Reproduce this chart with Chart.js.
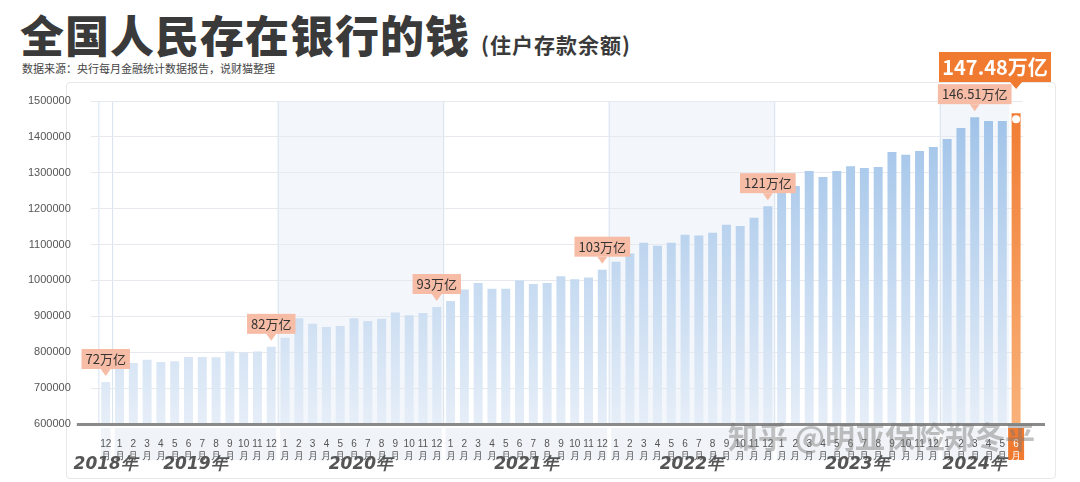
<!DOCTYPE html>
<html><head><meta charset="utf-8">
<script src="https://cdn.jsdelivr.net/npm/chart.js@4.4.1/dist/chart.umd.min.js"></script>
<style>
html,body{margin:0;padding:0;background:#fff;width:1080px;height:482px;overflow:hidden;font-family:"Noto Sans CJK SC",sans-serif}
#wrap{position:absolute;left:0;top:0;width:1080px;height:482px}
#t{position:absolute;left:20px;top:2px;font-size:44px;font-weight:900;color:#3a3a3a;letter-spacing:1px;white-space:nowrap}
#t span{font-size:21px;font-weight:700}
#s{position:absolute;left:22px;top:60px;font-size:11px;color:#444}
#box{position:absolute;left:66px;top:82px;width:988px;height:395px;border:1px solid #e8e8e8;border-radius:4px}
</style></head><body>
<div id="box"></div>
<div id="t">全国人民存在银行的钱 <span>(住户存款余额)</span></div>
<div id="s">数据来源：央行每月金融统计数据报告，说财猫整理</div>
<div id="wrap"><canvas id="c" width="1080" height="482"></canvas></div>
<script>
const months = ['12','1','2','3','4','5','6','7','8','9','10','11','12','1','2','3','4','5','6','7','8','9','10','11','12','1','2','3','4','5','6','7','8','9','10','11','12','1','2','3','4','5','6','7','8','9','10','11','12','1','2','3','4','5','6','7','8','9','10','11','12','1','2','3','4','5','6'];
const years = ['2018年','2019年','2020年','2021年','2022年','2023年','2024年'];
const yearStart = [0,1,13,25,37,49,61];
const deposits = [717000,
 756000,770000,779000,773000,775000,787000,787000,786000,802000,799000,802000,815000,
 840000,895000,879000,870000,873000,895000,887000,893000,911000,903000,909000,926000,
 943000,975000,993000,977000,977000,1000000,990000,993000,1012000,1003000,1008000,1030000,
 1052000,1075000,1105000,1097000,1105000,1127000,1125000,1133000,1155000,1152000,1175000,1207000,
 1252000,1263000,1305000,1288000,1305000,1318000,1313000,1316000,1358000,1350000,1361000,1372000,
 1394000,1425000,1455000,1444000,1444000,1466000];
const callouts = [[0,'72万亿'],[12,'82万亿'],[24,'93万亿'],[36,'103万亿'],[48,'121万亿'],[63,'146.51万亿']];
const finalLabel = '147.48万亿';
const yTicks = [600000,700000,800000,900000,1000000,1100000,1200000,1300000,1400000,1500000];
const last = deposits.length-1;

function yearSpan(x,i){
  const half=(x.getPixelForValue(1)-x.getPixelForValue(0))/2;
  const s=x.getPixelForValue(yearStart[i])-half;
  const e=(i+1<years.length?x.getPixelForValue(yearStart[i+1]):x.getPixelForValue(last))-half;
  return [s,e];
}
const deco = {
 id:'deco',
 beforeDraw(ch){
  const {ctx,chartArea:a,scales:{x}}=ch;
  ctx.save();
  for(let i=0;i<years.length;i++){
    const [s,e]=yearSpan(x,i);
    if(i%2===0 && i>0){ctx.fillStyle='rgba(235,240,246,0.6)';ctx.fillRect(s,a.top,e-s,a.bottom-a.top);}
    ctx.strokeStyle='#d6e2ef';ctx.lineWidth=1;
    ctx.beginPath();ctx.moveTo(s,a.top);ctx.lineTo(s,a.bottom);ctx.stroke();
    ctx.fillStyle='rgba(236,240,245,0.8)';ctx.fillRect(s+2,a.bottom+4,e-s-4,32);
  }
  ctx.fillStyle='#f07a30';ctx.fillRect(x.getPixelForValue(last)-8,a.bottom+4,16,32);
  ctx.restore();
 },
 afterDatasetsDraw(ch){
  const {ctx,chartArea:a,scales:{x,y}}=ch;
  ctx.save();
  ctx.fillStyle='#8a8a8a';ctx.fillRect(a.left-22,a.bottom-1,a.right-a.left+44,3);
  ctx.font='italic 900 17px "DejaVu Sans"';ctx.fillStyle='#555';ctx.textAlign='center';ctx.textBaseline='middle';
  for(let i=0;i<years.length;i++){
    const [s,e]=yearSpan(x,i);
    ctx.fillText(years[i],(s+e)/2,465);
  }
  ctx.font='13px "Noto Sans CJK SC"';
  callouts.forEach(([i,t])=>{
    const cx=x.getPixelForValue(i), top=y.getPixelForValue(deposits[i]);
    const w=ctx.measureText(t).width+8, by=top-33;
    ctx.fillStyle='#f6bca6';
    ctx.fillRect(cx-w/2,by,w,20);
    ctx.beginPath();ctx.moveTo(cx-5,by+20);ctx.lineTo(cx+5,by+20);ctx.lineTo(cx,by+27);ctx.fill();
    ctx.fillStyle='#333';ctx.fillText(t,cx,by+10);
  });
  const fx=x.getPixelForValue(last), ft=y.getPixelForValue(deposits[last]);
  ctx.fillStyle='#f07a30';
  ctx.fillRect(939,52,112,30);
  ctx.beginPath();ctx.moveTo(fx-6,82);ctx.lineTo(fx+6,82);ctx.lineTo(fx,89);ctx.fill();
  ctx.fillStyle='#fff';ctx.font='bold 20px "Noto Sans CJK SC"';ctx.fillText(finalLabel,995,67);
  ctx.beginPath();ctx.arc(fx,ft+6,4,0,Math.PI*2);ctx.fill();
  ctx.font='bold 30px "Noto Sans CJK SC"';ctx.fillStyle='rgba(120,120,120,0.45)';ctx.textAlign='left';
  ctx.fillText('知乎 @明亚保险郑冬平',728,437);
  ctx.restore();
 }
};

new Chart(document.getElementById('c'),{
 type:'bar',
 data:{labels:months,datasets:[{data:deposits,
  backgroundColor(ctx){
   const ch=ctx.chart,a=ch.chartArea; if(!a) return '#a9c8ea';
   const g=ch.ctx.createLinearGradient(0,a.top,0,a.bottom);
   if(ctx.dataIndex===last){g.addColorStop(0,'#f07a30');g.addColorStop(1,'#f9b27a');}
   else{g.addColorStop(0,'#9dc1e8');g.addColorStop(1,'#e6eef8');}
   return g;},
  barPercentage:0.65,categoryPercentage:1}]},
 plugins:[deco],
 options:{responsive:false,animation:false,
  layout:{padding:{left:8,right:57,top:101,bottom:14}},
  plugins:{legend:{display:false},tooltip:{enabled:false}},
  scales:{
   x:{grid:{display:false},border:{display:false},
      ticks:{autoSkip:false,maxRotation:0,font:{size:10},color:c=>c.index===last?'#fff':'#555',padding:6,callback:(v,i)=>[months[i],'月']}},
   y:{min:600000,max:1500000,border:{display:false},grid:{color:'#e6e9ee'},
      afterBuildTicks(s){s.ticks=yTicks.map(v=>({value:v}));},
      ticks:{font:{size:11},color:'#555',padding:20,callback:v=>String(v)}}
  }}
});
</script></body></html>
